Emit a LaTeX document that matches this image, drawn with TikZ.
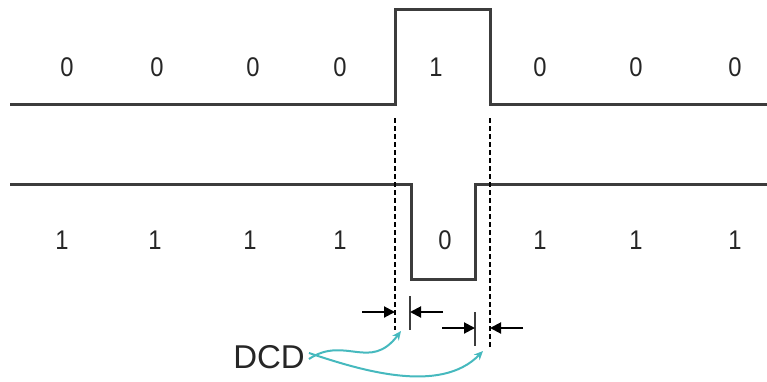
\documentclass[tikz,border=0pt]{standalone}
\usepackage{fontspec}
\setmainfont{Liberation Sans}
\usetikzlibrary{arrows.meta}
\definecolor{sig}{RGB}{60,60,60}
\definecolor{tealc}{RGB}{70,185,190}
\tikzset{
  signal/.style={draw=sig, line width=3pt},
  guide/.style={draw=black, dash pattern=on 5pt off 3pt, line width=1.4pt},
  tick/.style={draw=sig, line width=2.6pt},
  dimarrow/.style={draw=black, line width=2pt, -{Triangle[length=11pt,width=11pt]}},
  pointer/.style={draw=tealc, line width=2pt, -{Stealth[length=9pt,width=8pt]}},
  bit/.style={font=\fontsize{27}{27}\selectfont, text=black!85, inner sep=0pt, xscale=0.88},
  lbl/.style={font=\fontsize{33}{33}\selectfont, text=black!85, inner sep=0pt}
}
\begin{document}
\begin{tikzpicture}[x=1pt,y=-1pt]
\useasboundingbox (0,0) rectangle (767,381);
% top signal
\coordinate (t0) at (10,104);
\coordinate (t1) at (395,104);
\coordinate (t2) at (395,9);
\coordinate (t3) at (490,9);
\coordinate (t4) at (490,104);
\coordinate (t5) at (767,104);
\draw[signal] (t0) -- (t1) -- (t2) -- (t3) -- (t4) -- (t5);
% bottom signal
\coordinate (b0) at (10,184);
\coordinate (b1) at (411,184);
\coordinate (b2) at (411,279);
\coordinate (b3) at (475,279);
\coordinate (b4) at (475,184);
\coordinate (b5) at (767,184);
\draw[signal] (b0) -- (b1) -- (b2) -- (b3) -- (b4) -- (b5);
% dashed guides
\coordinate (g1a) at (395,118);
\coordinate (g1b) at (395,330);
\coordinate (g2a) at (490,118);
\coordinate (g2b) at (490,347);
\draw[guide] (g1a) -- (g1b);
\draw[guide] (g2a) -- (g2b);
% ticks
\coordinate (k1a) at (410,296);
\coordinate (k1b) at (410,330);
\coordinate (k2a) at (475,312);
\coordinate (k2b) at (475,346);
\draw[tick] (k1a) -- (k1b);
\draw[tick] (k2a) -- (k2b);
% dimension arrows
\coordinate (a1s) at (362,312);
\coordinate (a1e) at (395,312);
\coordinate (a2s) at (443,312);
\coordinate (a2e) at (410,312);
\coordinate (a3s) at (442,328);
\coordinate (a3e) at (475,328);
\coordinate (a4s) at (523,328);
\coordinate (a4e) at (490,328);
\draw[dimarrow] (a1s) -- (a1e);
\draw[dimarrow] (a2s) -- (a2e);
\draw[dimarrow] (a3s) -- (a3e);
\draw[dimarrow] (a4s) -- (a4e);
% bits top
\foreach \x/\b [count=\i] in {67/0,157/0,253/0,340/0,436/1,540/0,636/0,735/0}
  \node[bit] (top\i) at (\x,67) {\b};
% bits bottom
\foreach \x/\b [count=\i] in {62/1,155/1,250/1,340/1,445/0,540/1,636/1,735/1}
  \node[bit] (bot\i) at (\x,240) {\b};
% label
\node[lbl] (dcd) at (269,357) {DCD};
\coordinate (p1) at (401,331);
\coordinate (p2) at (483,351);
\draw[pointer] ([xshift=4pt,yshift=-2pt]dcd.east) .. controls (345,335) and (370,372) .. (p1);
\draw[pointer] ([xshift=4pt,yshift=4pt]dcd.east) .. controls (360,370) and (440,395) .. (p2);
\end{tikzpicture}
\end{document}
